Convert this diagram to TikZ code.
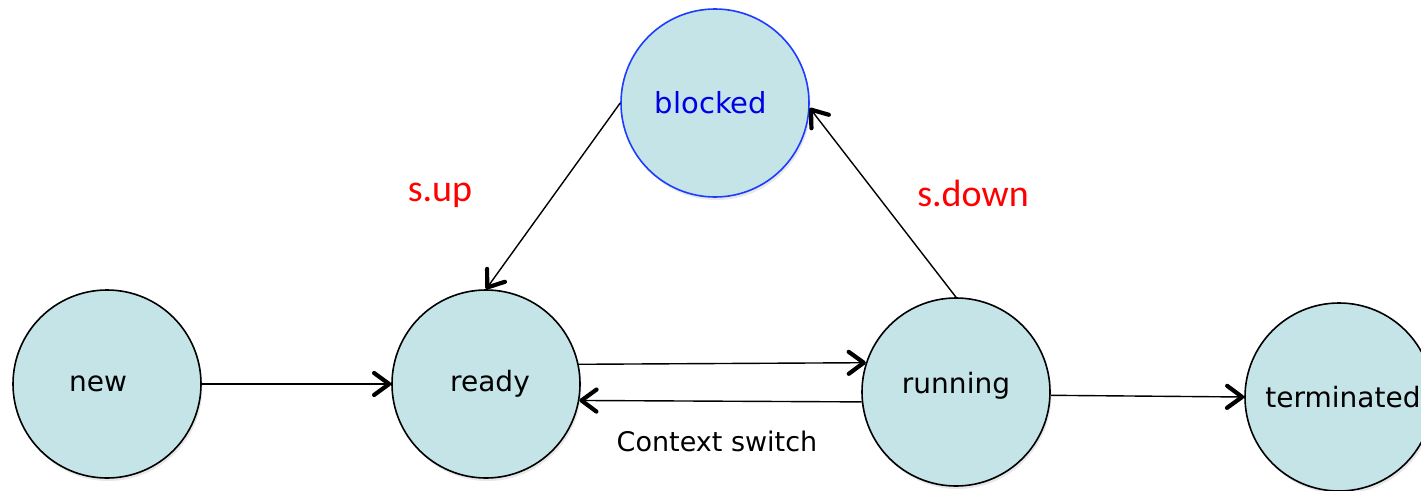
\documentclass[tikz,border=0pt]{standalone}
\usepackage{fontspec}
\setmainfont{DejaVu Sans}
\newfontfamily\labelfont{Carlito}
\usetikzlibrary{arrows.meta,shadows}
\definecolor{statefill}{RGB}{196,228,232}
\definecolor{blockedblue}{RGB}{30,60,255}
\definecolor{labelred}{RGB}{255,0,0}
\begin{document}
\begin{tikzpicture}[x=1pt,y=-1pt,
  state/.style={circle, draw=black, line width=1.6pt, fill=statefill,
    minimum size=188pt, inner sep=0pt, font=\fontsize{28}{32}\selectfont,
    drop shadow={opacity=0.18, shadow xshift=1.5pt, shadow yshift=-3pt}},
  trans/.style={line width=1.4pt,
    -{Straight Barb[length=15pt,width=22pt,line width=4.2pt 0 1,round]}},
  guard/.style={text=labelred, font=\labelfont\fontsize{38}{42}\selectfont}]
\clip (0,0) rectangle (1421,490);
\useasboundingbox (0,0) rectangle (1421,490);

% states
\node[state] (new) at (107,384) {\hspace*{-18pt}new};
\node[state] (ready) at (486,384) {\hspace*{8pt}ready};
\node[state] (running) at (956,392) {\raisebox{18pt}{running}};
\node[state] (terminated) at (1339,397) {\hspace*{8pt}terminated};
\node[state, draw=blockedblue, text=blue!90!black,
  font=\fontsize{29}{32}\selectfont] (blocked) at (715,103) {\hspace*{-8pt}blocked};

% transitions
\draw[trans] (new.east) -- (ready.west);
\draw[trans] (ready.12.8) -- (running.162);
\draw[trans] (running.186.1) -- (ready.-10.9);
\draw[trans] (running.-2.4) -- (terminated.west);
\draw[trans] (blocked.west) -- (ready.north);
\draw[trans] (running.north) -- (blocked.-3);

% labels
\node[guard] (sup) at (440,195) {s.up};
\node[guard] (sdown) at (973,193) {s.down};
\node[font=\fontsize{27}{30}\selectfont] (ctx) at (717,441) {Context switch};
\end{tikzpicture}
\end{document}
